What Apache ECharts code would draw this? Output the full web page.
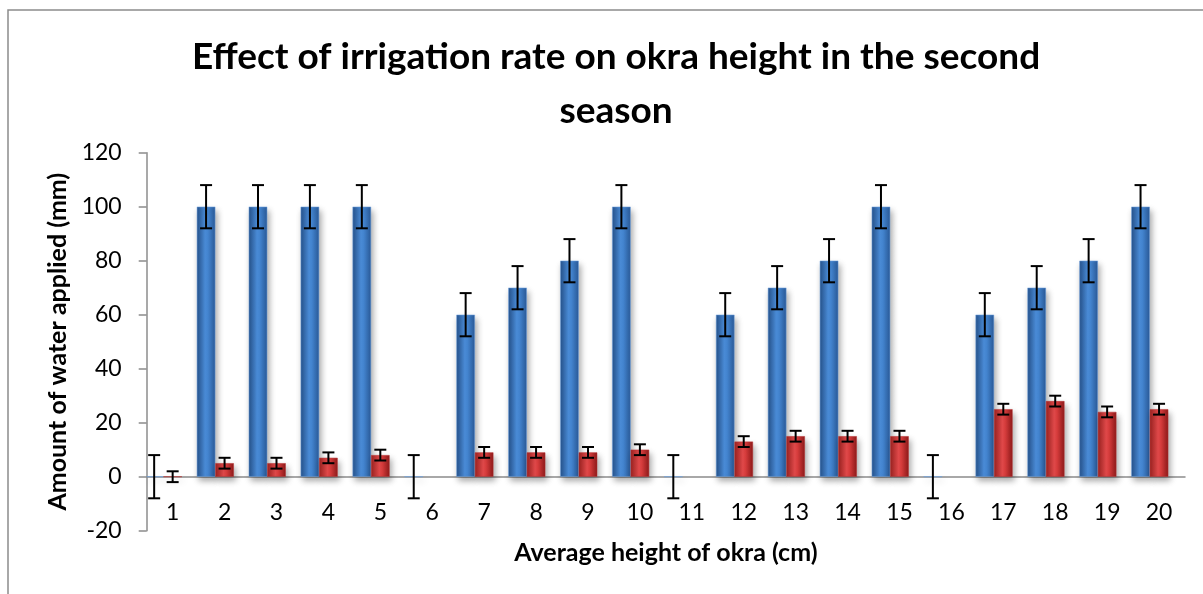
<!DOCTYPE html>
<html>
<head>
<meta charset="utf-8">
<script src="https://cdn.jsdelivr.net/npm/echarts@6/dist/echarts.min.js"></script>
<style>
  html, body { margin: 0; padding: 0; background: #fff; }
  #chart { width: 1203px; height: 594px; }
</style>
</head>
<body>
<div id="chart"></div>
<script>
// okra chart
var categories = ['1','2','3','4','5','6','7','8','9','10','11','12','13','14','15','16','17','18','19','20'];
var waterApplied = [0,100,100,100,100,0,60,70,80,100,0,60,70,80,100,0,60,70,80,100];
var waterErr     = [8,8,8,8,8,8,8,8,8,8,8,8,8,8,8,8,8,8,8,8];
var okraHeight   = [0,5,5,7,8,null,9,9,9,10,null,13,15,15,15,null,25,28,24,25];
var heightErr    = [2,2,2,2,2,null,2,2,2,2,null,2,2,2,2,null,2,2,2,2];
var yTicks = { min: -20, max: 120, interval: 20 };

var BAR_W = 18.5;

function errData(vals, errs) {
    var out = [];
    for (var i = 0; i < vals.length; i++) {
        if (vals[i] == null) continue;
        out.push([i, vals[i], errs[i]]);
    }
    return out;
}

function errRender(offsetX) {
    return function (params, api) {
        var i = api.value(0), v = api.value(1), e = api.value(2);
        var top = api.coord([i, v + e]);
        var bot = api.coord([i, v - e]);
        var x = top[0] + offsetX;
        var cap = 6;
        var st = { stroke: '#000', lineWidth: 2 };
        return {
            type: 'group',
            children: [
                { type: 'line', shape: { x1: x, y1: top[1], x2: x, y2: bot[1] }, style: st },
                { type: 'line', shape: { x1: x - cap, y1: top[1], x2: x + cap, y2: top[1] }, style: st },
                { type: 'line', shape: { x1: x - cap, y1: bot[1], x2: x + cap, y2: bot[1] }, style: st }
            ]
        };
    };
}

var blueFill = new echarts.graphic.LinearGradient(0, 0, 1, 0, [
    { offset: 0, color: '#25528c' },
    { offset: 0.45, color: '#4a8bd6' },
    { offset: 0.6, color: '#4384cf' },
    { offset: 1, color: '#2a5a98' }
]);
var redFill = new echarts.graphic.LinearGradient(0, 0, 1, 0, [
    { offset: 0, color: '#9c2220' },
    { offset: 0.45, color: '#e0494a' },
    { offset: 0.6, color: '#d63c3c' },
    { offset: 1, color: '#8e1a1a' }
]);

var myChart = echarts.init(document.getElementById('chart'));
var option = {
    backgroundColor: '#fff',
    animation: false,
    graphic: [{
        type: 'rect',
        shape: { x: 8, y: 10, width: 1400, height: 800 },
        style: { fill: 'none', stroke: '#8c8c8c', lineWidth: 1.5 },
        silent: true
    }],
    title: {
        text: 'Effect of irrigation rate on okra height in the second\nseason',
        left: 611,
        top: 25,
        textAlign: 'center',
        textStyle: {
            fontFamily: 'Lato',
            fontWeight: 'bold',
            fontSize: 37,
            lineHeight: 54,
            color: '#000'
        }
    },
    grid: {
        left: 146.7,
        right: 18,
        top: 152.7,
        bottom: 63.3,
        outerBoundsMode: 'none',
        containLabel: false
    },
    xAxis: {
        type: 'category',
        data: categories,
        name: 'Average height of okra (cm)',
        nameLocation: 'middle',
        nameGap: 10,
        nameMoveOverlap: false,
        nameTextStyle: { fontFamily: 'Lato', fontWeight: 'bold', fontSize: 25, color: '#000' },
        axisLine: { onZero: true, lineStyle: { color: '#8c8c8c', width: 1.5 } },
        axisTick: { show: false },
        axisLabel: { margin: -30, fontFamily: 'Lato', fontSize: 23, color: '#000' },
        splitLine: { show: false }
    },
    yAxis: {
        type: 'value',
        min: yTicks.min,
        max: yTicks.max,
        interval: yTicks.interval,
        name: 'Amount of water applied (mm)',
        nameLocation: 'middle',
        nameGap: 76,
        nameTextStyle: { fontFamily: 'Lato', fontWeight: 'bold', fontSize: 25, color: '#000' },
        axisLine: { show: true, lineStyle: { color: '#8c8c8c', width: 1.5 } },
        axisTick: { show: true, length: 8, lineStyle: { color: '#8c8c8c', width: 1.5 } },
        axisLabel: { margin: 25, fontFamily: 'Lato', fontSize: 23, color: '#000' },
        splitLine: { show: false }
    },
    series: [
        {
            name: 'Water applied',
            type: 'bar',
            data: waterApplied,
            barWidth: BAR_W,
            barGap: '0%',
            itemStyle: {
                color: blueFill,
                borderColor: '#6fa3e0',
                borderWidth: 0.5,
                shadowColor: 'rgba(0,0,0,0.35)',
                shadowBlur: 6,
                shadowOffsetX: 2,
                shadowOffsetY: 4
            }
        },
        {
            name: 'Okra height',
            type: 'bar',
            data: okraHeight,
            barWidth: BAR_W,
            barGap: '0%',
            itemStyle: {
                color: redFill,
                borderColor: '#b83030',
                borderWidth: 0.5,
                shadowColor: 'rgba(0,0,0,0.35)',
                shadowBlur: 6,
                shadowOffsetX: 2,
                shadowOffsetY: 4
            }
        },
        {
            name: '',
            type: 'bar',
            data: [],
            barWidth: BAR_W,
            barGap: '0%'
        },
        {
            type: 'custom',
            renderItem: errRender(-BAR_W),
            data: errData(waterApplied, waterErr),
            z: 10
        },
        {
            type: 'custom',
            renderItem: errRender(0),
            data: errData(okraHeight, heightErr),
            z: 10
        }
    ]
};
myChart.setOption(option);
</script>
</body>
</html>
